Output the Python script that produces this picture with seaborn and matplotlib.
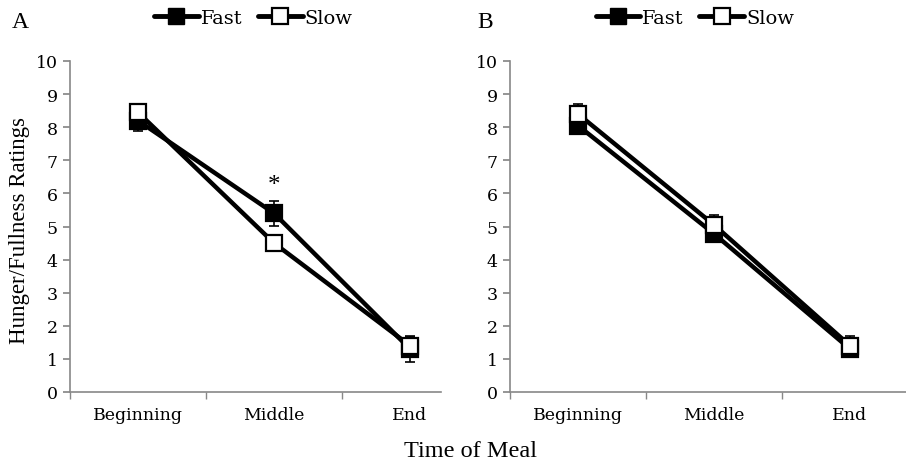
import pandas as pd
import numpy as np
import matplotlib.pyplot as plt
import seaborn as sns

# data
times = ["Beginning", "Middle", "End"]
fast_a = [8.2, 5.4, 1.3]
slow_a = [8.45, 4.5, 1.4]
fast_a_err = [0.3, 0.38, 0.4]
slow_a_err = [0.2, 0.15, 0.25]
fast_b = [8.05, 4.78, 1.3]
slow_b = [8.4, 5.05, 1.4]
fast_b_err = [0.2, 0.15, 0.25]
slow_b_err = [0.3, 0.3, 0.3]
yticks = list(range(0, 11))

sns.set_theme(style="white")
plt.rcParams['font.family'] = ['DejaVu Serif']
plt.rcParams['text.color'] = 'black'
plt.rcParams['xtick.color'] = 'black'
plt.rcParams['ytick.color'] = 'black'

fig = plt.figure(figsize=(9.06, 4.64), dpi=100)
ax_a = fig.add_axes([70 / 906, 71 / 464, 408 / 906, 331 / 464])
ax_b = fig.add_axes([510 / 906, 71 / 464, 408 / 906, 331 / 464])


def draw_panel(ax, fast, slow, fast_err, slow_err, leg_x, minor):
    df = pd.DataFrame({
        "time": times * 2,
        "rating": fast + slow,
        "group": ["Fast"] * 3 + ["Slow"] * 3,
    })
    x = np.arange(len(times))
    ax.errorbar(x, fast, yerr=fast_err, fmt="none", ecolor="black",
                elinewidth=1.2, capsize=3.5, capthick=1.2, zorder=2)
    ax.errorbar(x, slow, yerr=slow_err, fmt="none", ecolor="black",
                elinewidth=1.2, capsize=3.5, capthick=1.2, zorder=2)
    sns.lineplot(data=df, x="time", y="rating", hue="group", style="group",
                 palette={"Fast": "black", "Slow": "black"},
                 markers={"Fast": "s", "Slow": "s"}, dashes=False,
                 linewidth=3.2, markersize=12, ax=ax, legend=False, zorder=3)
    # marker faces
    lines = ax.get_lines()[-2:]
    lines[0].set_markerfacecolor("black")
    lines[1].set_markerfacecolor("white")
    for ln in lines:
        ln.set_markeredgecolor("black")
        ln.set_markeredgewidth(1.6)

    ax.set_xlim(-0.5, 2.5)
    ax.set_ylim(0, 10)
    ax.set_yticks(yticks)
    ax.set_xticks(x)
    ax.set_xticklabels(times, fontsize=12.5)
    ax.set_xticks(minor, minor=True)
    ax.tick_params(axis="x", which="major", length=0, pad=10)
    ax.tick_params(axis="x", which="minor", length=5, color="#888888",
                   direction="out", bottom=True)
    ax.tick_params(axis="y", length=5, color="#888888", direction="out",
                   left=True, labelsize=12.5, pad=4)
    ax.set_xlabel("")
    ax.set_ylabel("")
    for s in ["top", "right"]:
        ax.spines[s].set_visible(False)
    for s in ["left", "bottom"]:
        ax.spines[s].set_color("#888888")
        ax.spines[s].set_linewidth(1.2)

    # legend
    handles = [
        plt.Line2D([], [], color="black", lw=3.5, marker="s", markersize=12,
                   markerfacecolor="black", markeredgecolor="black"),
        plt.Line2D([], [], color="black", lw=3.5, marker="s", markersize=12,
                   markerfacecolor="white", markeredgecolor="black",
                   markeredgewidth=1.6),
    ]
    ax.legend(handles, ["Fast", "Slow"], ncol=2, frameon=False,
              loc="center", bbox_to_anchor=(leg_x, 1 + 43 / 331),
              handlelength=2.3, handletextpad=0.1, columnspacing=0.8,
              prop={"size": 14}, borderaxespad=0, borderpad=0)


draw_panel(ax_a, fast_a, slow_a, fast_a_err, slow_a_err, 0.449,
           [-0.5, 0.5, 1.5])
draw_panel(ax_b, fast_b, slow_b, fast_b_err, slow_b_err, 0.453,
           [-0.5, 0.5, 1.5, 2.5])

ax_a.spines["bottom"].set_bounds(-0.5, 2.23)
ax_a.text(1, 6.25, "*", ha="center", va="center", fontsize=18,
          family="Liberation Serif")

fig.text(12 / 906, 1 - 22 / 464, "A", fontsize=17, family="Liberation Serif",
         ha="left", va="center")
fig.text(477 / 906, 1 - 22 / 464, "B", fontsize=17, family="Liberation Serif",
         ha="left", va="center")
fig.text(470 / 906, 1 - 452 / 464, "Time of Meal", fontsize=17.5,
         family="Liberation Serif", ha="center", va="center")
fig.text(20 / 906, 1 - 231 / 464, "Hunger/Fullness Ratings", fontsize=16.5,
         family="Liberation Serif", ha="center", va="center", rotation=90)

fig.savefig("out.png", dpi=100)
